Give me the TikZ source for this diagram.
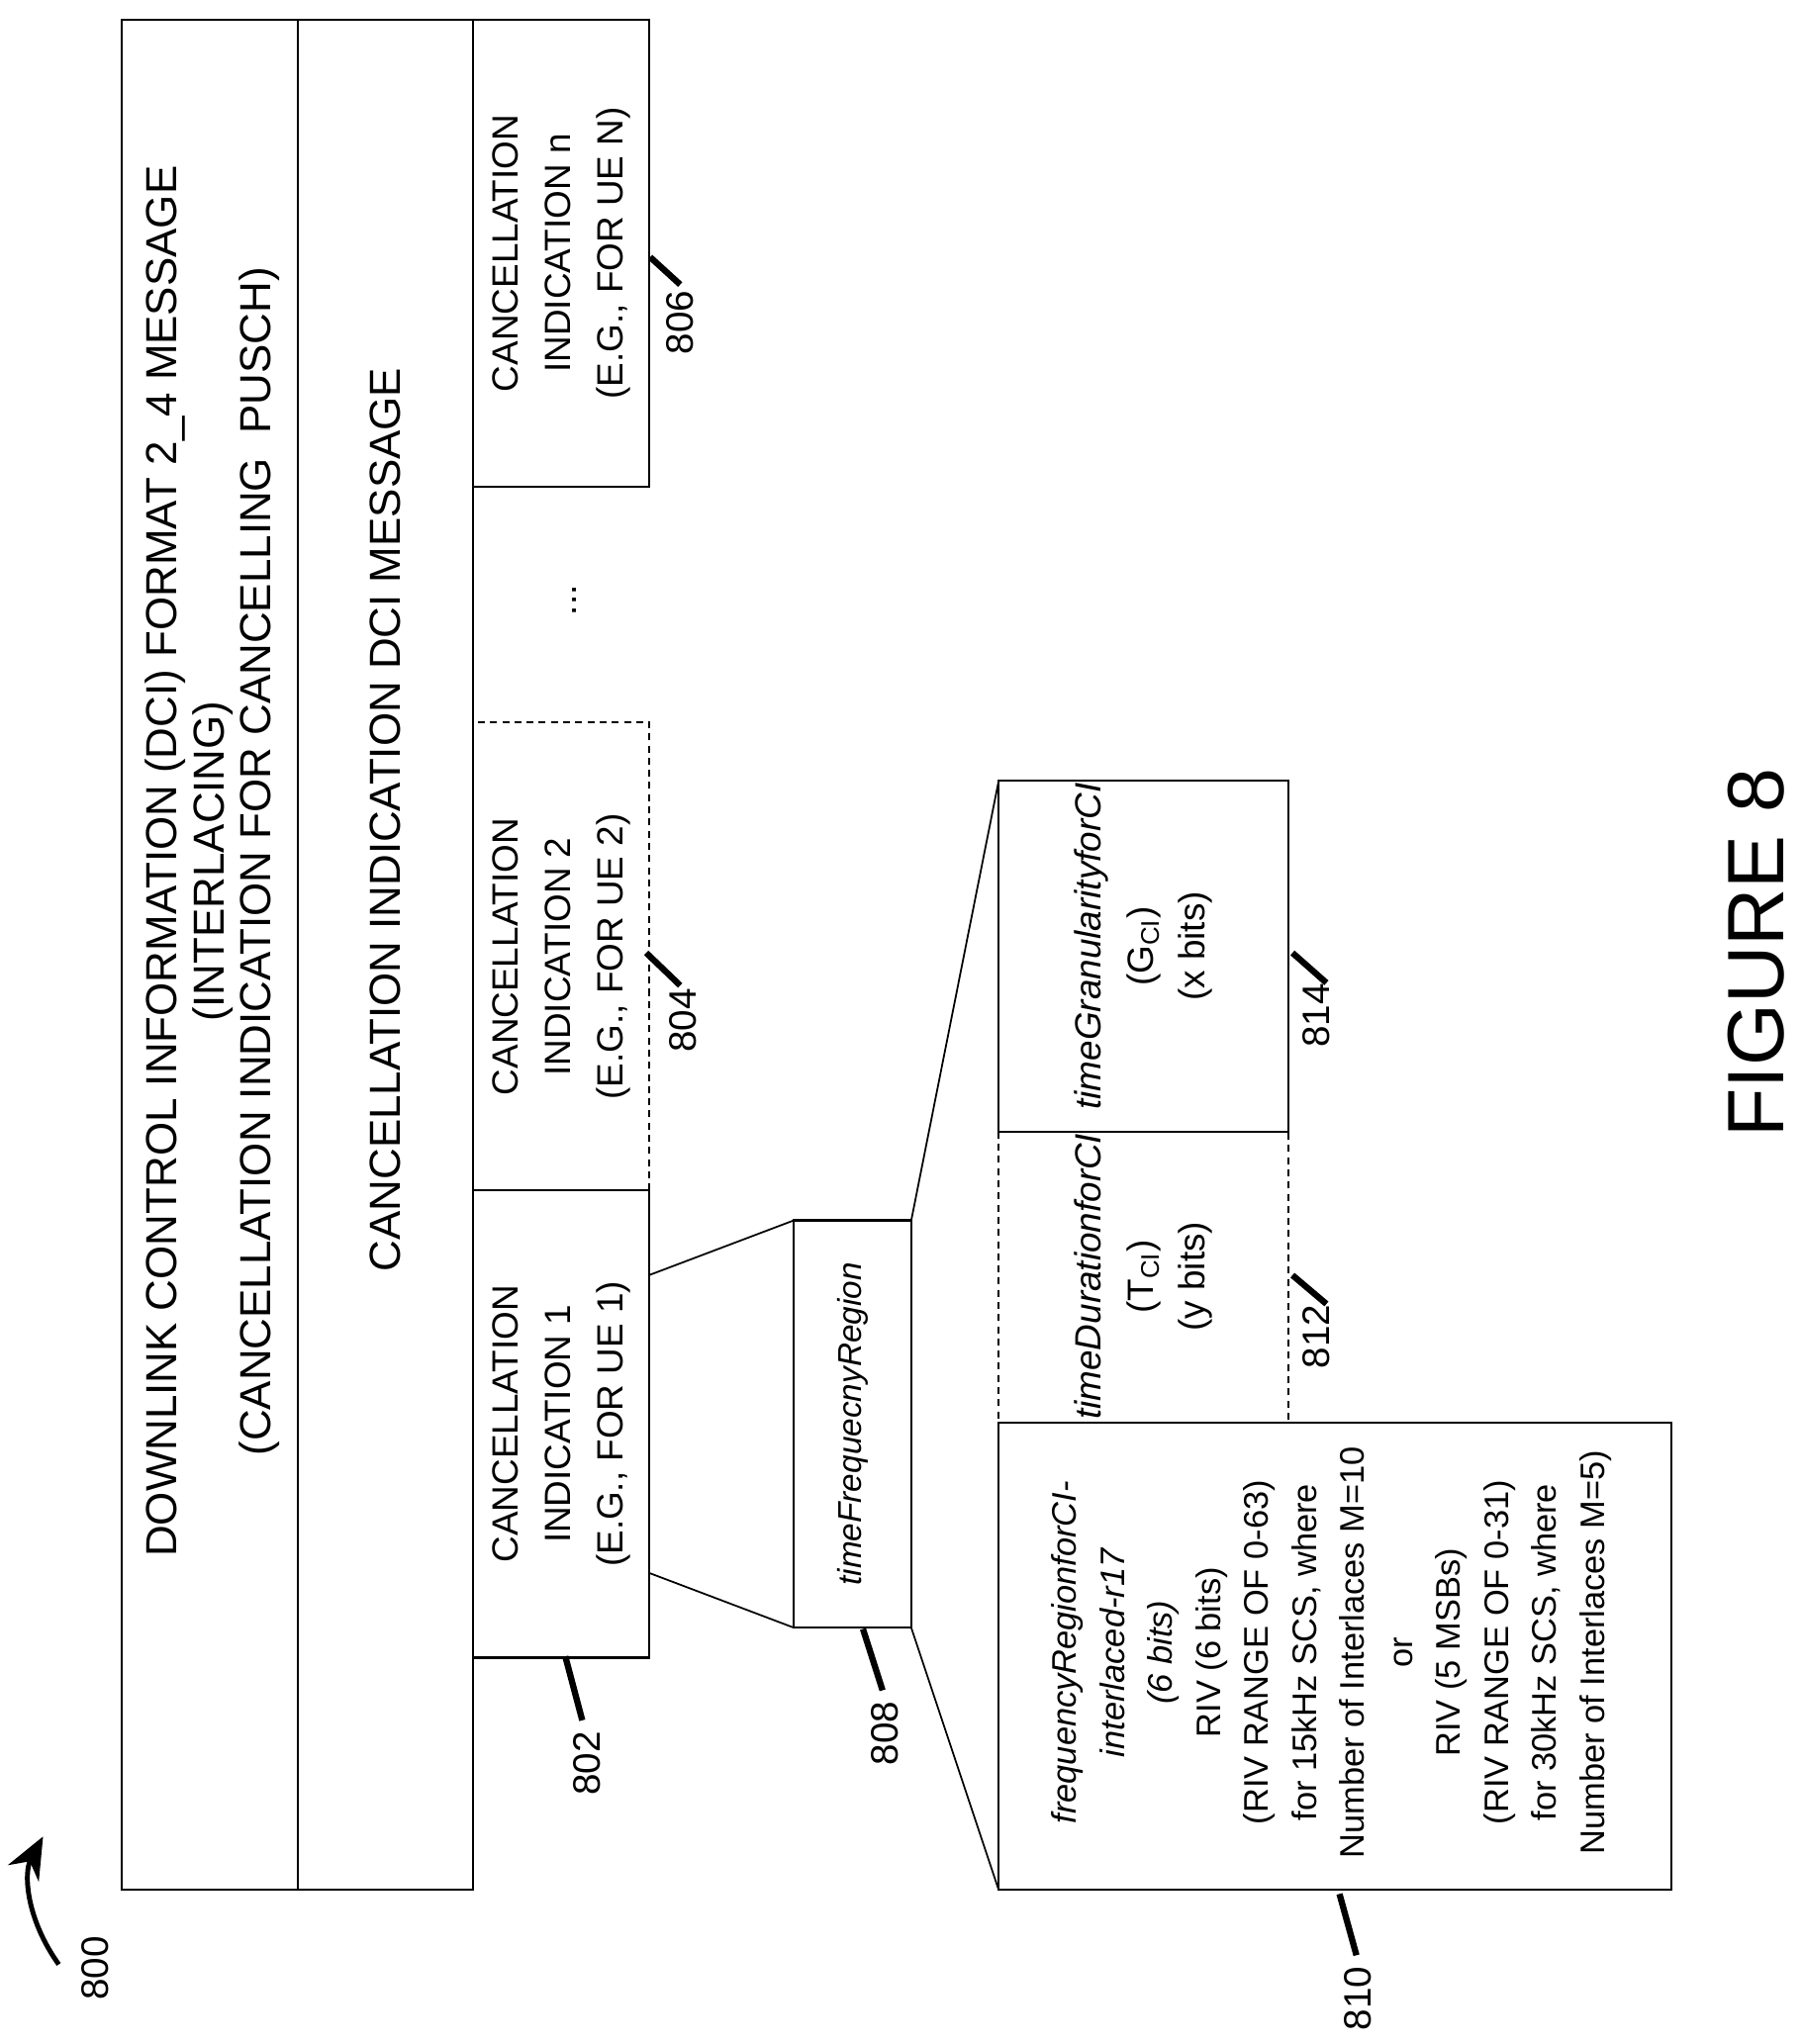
\documentclass[tikz,border=0pt]{standalone}
\usepackage{fontspec}
\setmainfont{Liberation Sans}
\usetikzlibrary{positioning,arrows.meta}

\begin{document}
\begin{tikzpicture}[
    x=0.0132cm, y=-0.0132cm,
    every node/.style={font=\fontsize{10.5}{15}\selectfont},
    txt/.style={rotate=90, align=center, inner sep=0pt},
    frame/.style={draw, line width=0.6pt},
    dframe/.style={draw, line width=0.6pt, dash pattern=on 2pt off 1.5pt},
    ref/.style={rotate=90, inner sep=0pt, font=\fontsize{11}{13}\selectfont},
    tick/.style={line width=1.8pt}
]
    \useasboundingbox (0,0) rectangle (1380,1566);

    % DCI message
    \draw[frame] (93,15) rectangle (362,1448);
    \draw[frame] (228,15) -- (228,1448);
    \node[txt, font=\fontsize{12.5}{13.5}\selectfont] (dci) at (163,660) {DOWNLINK CONTROL INFORMATION (DCI) FORMAT 2\_4 MESSAGE\\(INTERLACING)\\(CANCELLATION INDICATION FOR CANCELLING\ \ PUSCH)};
    \node[txt, font=\fontsize{12.5}{13.5}\selectfont] (cimsg) at (295,628) {CANCELLATION INDICATION DCI MESSAGE};

    % cancellation indications
    \draw[frame] (362,912) rectangle (497,1270);
    \node[txt] (ci1) at (430,1091) {CANCELLATION\\INDICATION 1\\(E.G., FOR UE 1)};
    \draw[dframe] (362,553) rectangle (497,912);
    \node[txt] (ci2) at (430,733) {CANCELLATION\\INDICATION 2\\(E.G., FOR UE 2)};
    \node[txt] (dots) at (440,460) {...};
    \draw[frame] (362,15) rectangle (497,373);
    \node[txt] (cin) at (430,194) {CANCELLATION\\INDICATION n\\(E.G., FOR UE N)};

    % timeFrequencyRegion
    \draw[frame] (608,935) rectangle (698,1247);
    \node[txt, font=\fontsize{9.5}{12}\selectfont] (tfr) at (653,1091) {\textit{timeFrequecnyRegion}};
    \draw[line width=0.5pt] (497,977) -- (608,935);
    \draw[line width=0.5pt] (497,1205) -- (608,1247);
    \draw[line width=0.5pt] (698,935) -- (765,598);
    \draw[line width=0.5pt] (698,1247) -- (765,1448);

    % fields
    \draw[frame] (765,1090) rectangle (1280,1448);
    \node[txt, font=\fontsize{9.8}{13.8}\selectfont] (freq) at (1020,1266) {\textit{frequencyRegionforCI-}\\\textit{interlaced-r17}\\\textit{(6 bits)}\\RIV (6 bits)\\(RIV RANGE OF 0-63)\\for 15kHz SCS, where\\Number of Interlaces M=10\\or\\RIV (5 MSBs)\\(RIV RANGE OF 0-31)\\for 30kHz SCS, where\\Number of Interlaces M=5)};
    \draw[dframe] (765,867) rectangle (987,1090);
    \node[txt] (tdur) at (876,978) {\textit{timeDurationforCI}\\(T\textsubscript{CI})\\(y bits)};
    \draw[frame] (765,598) rectangle (987,867);
    \node[txt] (tgran) at (876,725) {\textit{timeGranularityforCI}\\(G\textsubscript{CI})\\(x bits)};

    % reference numerals
    \node[ref] (r800) at (73,1508) {800};
    \draw[-{Stealth[length=12pt,width=10pt]}, line width=1.4pt] (45,1505) .. controls (20,1470) and (18,1435) .. (33,1407);
    \node[ref] (r802) at (450,1351) {802};
    \draw[tick] (433,1269) -- (446,1318);
    \node[ref] (r804) at (523,782) {804};
    \draw[tick] (495,730) -- (521,755);
    \node[ref] (r806) at (521,247) {806};
    \draw[tick] (498,197) -- (521,218);
    \node[ref] (r808) at (678,1328) {808};
    \draw[tick] (661,1248) -- (676,1295);
    \node[ref] (r810) at (1040,1531) {810};
    \draw[tick] (1026,1451) -- (1039,1498);
    \node[ref] (r812) at (1008,1024) {812};
    \draw[tick] (990,977) -- (1016,999);
    \node[ref] (r814) at (1008,778) {814};
    \draw[tick] (990,730) -- (1016,753);

    \node[ref, font=\fontsize{23}{26}\selectfont] (fig) at (1345,730) {FIGURE 8};
\end{tikzpicture}
\end{document}
